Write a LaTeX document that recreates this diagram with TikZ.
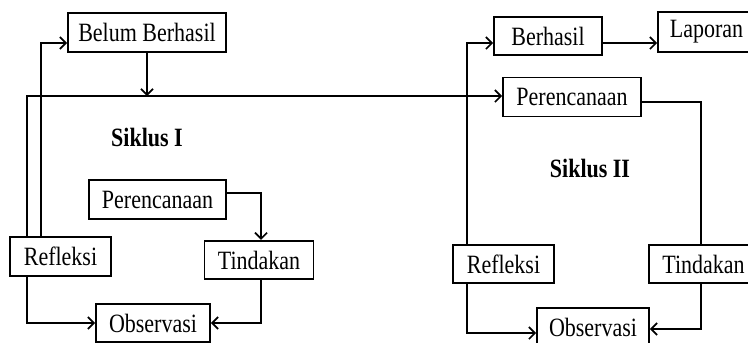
\documentclass[tikz,border=0pt]{standalone}
\usepackage{fontspec}
\setmainfont{Liberation Serif}
\usetikzlibrary{arrows.meta}
\newcommand{\tx}[1]{\scalebox{1}[1.2]{#1}}
\tikzset{
  box/.style={draw, line width=1.7pt, inner sep=0pt, minimum height=38.5pt,
    font=\fontsize{22}{24}\selectfont, anchor=center},
  conn/.style={line width=1.7pt},
  arr/.style={conn, -{Straight Barb[length=6pt,width=12pt,line width=1.7pt]}},
  title/.style={font=\fontsize{22}{24}\selectfont\bfseries}
}
\begin{document}
\begin{tikzpicture}[x=1pt,y=-1pt]
\useasboundingbox (0,0) rectangle (748,343);
\clip (0,0) rectangle (748,343);
% rails and levels
\coordinate (railA) at (27,0);
\coordinate (railB) at (41,0);
\coordinate (railC) at (467,0);
\coordinate (railD) at (701,0);
\coordinate (railE) at (261,0);
\coordinate (hTop) at (0,43);
\coordinate (hMain) at (0,96);
\coordinate (hP2) at (0,102);
\coordinate (hP1) at (0,193);
\coordinate (hO1) at (0,323);
\coordinate (hO2a) at (0,329);
\coordinate (hO2b) at (0,333);
% nodes
\node[box, minimum width=158pt] (BB) at (147,32.5) {\tx{Belum Berhasil}};
\node[box, minimum width=108pt] (Ber) at (548,36) {\tx{Berhasil}};
\node[box, minimum width=97pt, minimum height=40pt] (Lap) at (706.5,32) {\tx{Laporan}};
\node[box, minimum width=138pt, minimum height=39pt] (P2) at (572,97) {\tx{Perencanaan}};
\node[box, minimum width=137pt, minimum height=39pt] (P1) at (157.5,199.5) {\tx{Perencanaan}};
\node[box, minimum width=101pt, minimum height=39pt] (R1) at (60.5,256.5) {\tx{Refleksi}};
\node[box, minimum width=109pt] (T1) at (259,260) {\tx{Tindakan}};
\node[box, minimum width=114pt] (O1) at (153,323) {\tx{Observasi}};
\node[box, minimum width=101pt] (R2) at (503.5,264) {\tx{Refleksi}};
\node[box, minimum width=109pt] (T2) at (703.5,264) {\tx{Tindakan}};
\node[box, minimum width=112pt] (O2) at (593,327) {\tx{Observasi}};
\node[title] (S1) at (147,138) {\tx{Siklus I}};
\node[title] (S2) at (590,169) {\tx{Siklus II}};
% connectors cycle I
\draw[arr] (R1.north -| railB) |- (BB.west |- hTop);
\draw[arr] (R1.north -| railA) |- (P2.west |- hMain);
\draw[arr] (BB.south) -- (BB.south |- hMain);
\draw[arr] (P1.east |- hP1) -| (T1.north -| railE);
\draw[arr] (T1.south -| railE) |- (O1.east |- hO1);
\draw[arr] (R1.south -| railA) |- (O1.west |- hO1);
% connectors cycle II
\draw[arr] (R2.north -| railC) |- (Ber.west |- hTop);
\draw[arr] (Ber.east |- hTop) -- (Lap.west |- hTop);
\draw[conn] (P2.east |- hP2) -| (T2.north -| railD);
\draw[arr] (T2.south -| railD) |- (O2.east |- hO2a);
\draw[arr] (R2.south -| railC) |- (O2.west |- hO2b);
\end{tikzpicture}
\end{document}
